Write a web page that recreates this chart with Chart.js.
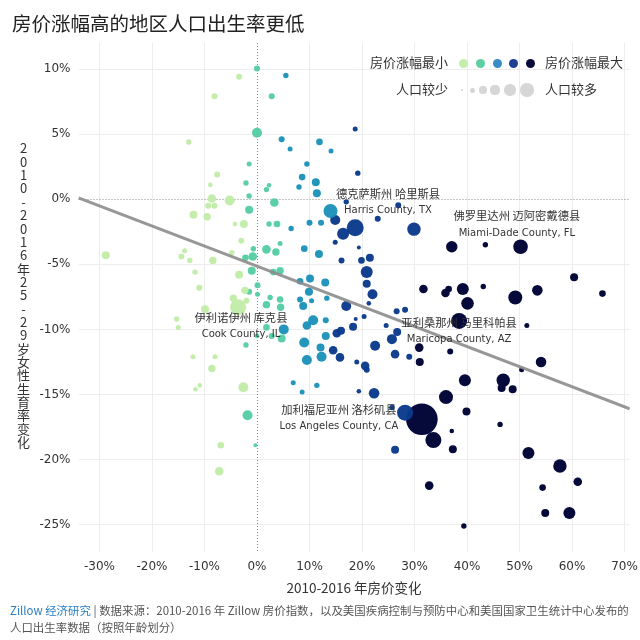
<!DOCTYPE html>
<html><head><meta charset="utf-8">
<script src="https://cdn.jsdelivr.net/npm/chart.js@4/dist/chart.umd.min.js"></script>
<style>
html,body{margin:0;padding:0;background:#fff;}
#wrap{position:relative;width:640px;height:640px;overflow:hidden;font-family:"Noto Sans CJK SC","Noto Sans",sans-serif;color:#333;}
#c{position:absolute;left:0;top:0;}
.abs{position:absolute;white-space:nowrap;}
#title{left:12px;top:8px;font-size:19.5px;color:#222;}
#ytitle{left:14px;top:142px;font-size:13px;writing-mode:vertical-rl;text-orientation:upright;color:#333;letter-spacing:0.35px;}
#xtitle{left:0;width:708px;text-align:center;top:577px;font-size:13.5px;color:#333;}
#footer{left:10px;top:602px;font-size:11.45px;line-height:17px;color:#555;}
#footer .z{color:#2b7fc2;}
.lt{font-size:13px;color:#333;line-height:16px;}
.dot{position:absolute;border-radius:50%;}
</style></head>
<body>
<div id="wrap">
<canvas id="c" width="660" height="640"></canvas>
<div id="title" class="abs">房价涨幅高的地区人口出生率更低</div>
<div id="ytitle" class="abs">2010-2016年25-29岁女性生育率变化</div>
<div id="xtitle" class="abs">2010-2016 年房价变化</div>
<div id="footer" class="abs"><span class="z">Zillow 经济研究</span> | 数据来源：2010-2016 年 Zillow 房价指数，以及美国疾病控制与预防中心和美国国家卫生统计中心发布的<br>人口出生率数据（按照年龄划分）</div>
<div id="legend"></div>
</div>
<script>
// ---- data: [house price change %, fertility change %, population (10k people)] ----
const groupNames = ['房价涨幅最小','较小','中等','较大','房价涨幅最大'];
const lightGreen = [
[-3.4,9.4,36],[-8.1,7.9,36],[-13,4.4,29],[-7.6,1.9,36],[-8.9,1.1,21],[-8.6,0.05,74],[-5.2,-0.1,100],
[-9.3,-0.5,36],[-8.1,-0.5,36],[-12.1,-1.2,64],[-9.5,-1.35,55],[-4.2,-1.9,21],[-2.5,-1.9,64],[-3,-3.2,36],
[-28.8,-4.3,64],[-13.8,-3.95,25],[-14.4,-4.4,36],[-12.8,-4.7,29],[-8.4,-4.7,55],[-4.8,-4.1,29],[-11.8,-5.6,29],
[-3.4,-5.8,64],[-11,-6.8,36],[-2.3,-7.0,55],[-4.5,-7.6,55],[-3.6,-8.3,256],[-2.0,-7.8,36],[-9.9,-8.45,64],
[-15.3,-9.2,29],[-15,-9.85,25],[-12.2,-12.1,25],[-8,-12.1,25],[-8.6,-13.0,55],[-10.9,-14.3,21],[-11.7,-14.6,21],
[-2.6,-14.45,100],[-6.9,-18.9,44],[-7.2,-20.9,74]
];
const mint = [
[0,10.05,36],[2.8,7.9,36],[0,5.1,100],[-1.5,2.7,25],[-2.1,1.25,29],[2.3,1.07,21],[1.8,0.74,29],[-1.5,0.25,29],
[3.3,-0.25,74],[-1.5,-0.8,64],[2.3,-1.9,29],[3.8,-1.9,44],[4.4,-3.4,25],[-0.7,-3.8,29],[1.8,-3.85,74],
[3.6,-4.06,55],[-2.2,-4.5,44],[-0.8,-4.4,74],[-1,-5.5,64],[3.1,-5.6,44],[4.4,-5.5,55],[0.1,-6.6,36],
[-1.5,-7.1,36],[0.1,-7.3,25],[2.5,-7.55,29],[4.4,-7.7,44],[1.8,-8.1,55],[4.5,-8.3,55],[1.8,-9.85,44],
[2.8,-10.5,36],[0,-10.5,21],[4.7,-10.7,64],[-2.1,-11.2,29],[-1.8,-16.6,100],[-0.3,-18.9,16]
];
const teal = [
[5.5,9.5,29],[4.7,4.6,36],[6.3,3.85,25],[11.9,4.4,44],[14.1,3.7,25],[9.5,2.7,29],[8.6,1.7,44],[8.0,0.94,29],
[11.2,1.3,64],[11.4,0.46,64],[6.5,-2.25,29],[10,-1.8,36],[12.2,-1.8,36],[14,-0.9,196],[9,-3.8,44],[11.8,-4.2,64],
[8.2,-6.3,44],[10.1,-6.1,64],[13,-6.4,64],[9.9,-7.1,64],[13.3,-7.6,29],[8.2,-7.7,36],[10.4,-7.8,25],[8.8,-8.2,64],
[5.1,-10.0,100],[10.7,-9.3,100],[9.5,-9.7,74],[13.1,-9.3,36],[13.1,-10.5,64],[9,-11.0,100],[12.1,-11.4,64],
[12.3,-12.1,100],[9.5,-12.35,100],[6.9,-14.1,25],[8.6,-14.8,25],[11.4,-14.3,29]
];
const navy = [
[18.7,5.4,25],[19.2,2.0,29],[17,-0.2,29],[14.9,-1.6,100],[16.4,-2.65,144],[18.7,-2.2,289],[14.9,-3.3,25],
[16.1,-4.7,36],[23,-1.5,36],[26.9,-0.46,36],[29.9,-2.3,180],[19.4,-3.7,16],[19.9,-4.7,44],[21.5,-4.5,64],
[20.9,-5.6,144],[20.9,-6.5,64],[22,-7.3,100],[21.3,-8.0,21],[17,-8.2,100],[18.8,-9.2,16],[20.4,-9.0,25],
[26.6,-8.6,36],[28.2,-8.5,36],[24.6,-9.7,25],[26.7,-10.2,64],[25.7,-10.75,100],[22.5,-11.25,100],[18.3,-9.8,64],
[15.2,-10.3,74],[16,-10.1,64],[14.5,-11.6,74],[15.8,-12.15,74],[19,-12.5,25],[20.6,-12.8,74],[20.9,-13.1,36],
[26.3,-11.9,74],[29,-12.1,36],[19.4,-14.75,21],[22.3,-14.9,112],[25.7,-16.0,29],[28.2,-16.4,256],[26.3,-19.25,64]
];
const darkNavy = [
[37.1,-3.65,130],[43.5,-3.5,29],[50.2,-3.65,213],[60.4,-6.0,64],[31.7,-6.9,74],[35.9,-7.2,74],[36.5,-6.9,44],
[39.2,-6.9,144],[43.1,-6.7,29],[40.1,-8.0,159],[49.2,-7.55,196],[53.4,-7.0,112],[65.8,-7.25,44],[38.5,-9.35,256],
[51.4,-9.7,25],[30.9,-11.4,74],[36.8,-11.7,36],[31,-12.5,64],[54.1,-12.5,112],[50.4,-13.1,25],[39.6,-13.9,144],
[46.9,-13.9,180],[46.6,-14.5,64],[48.7,-14.6,64],[36,-15.2,196],[39.9,-16.3,64],[31.4,-16.9,1000],[46.3,-17.3,29],
[37.1,-17.8,21],[33.6,-18.5,256],[37.3,-19.2,64],[51.7,-19.5,144],[57.7,-20.5,180],[61.1,-21.7,74],[54.4,-22.15,44],
[32.8,-22,74],[54.9,-24.1,64],[59.5,-24.1,144],[39.4,-25.1,29]
];
// trend line endpoints
const trendX = [-34, 71];
const trendY = [0.1, -16.1];
// ticks
const xTicks = [-30,-20,-10,0,10,20,30,40,50,60,70];
const yTicks = [10,5,0,-5,-10,-15,-20,-25];
// annotations
const labelsCN = ['德克萨斯州 哈里斯县','佛罗里达州 迈阿密戴德县','伊利诺伊州 库克县','亚利桑那州 马里科帕县','加利福尼亚州 洛杉矶县'];
const labelsEN = ['Harris County, TX','Miami-Dade County, FL','Cook County, IL','Maricopa County, AZ','Los Angeles County, CA'];
const labelX = [24.95, 49.5, -3.05, 38.5, 15.6];
const labelY = [0.46, -1.3, -9.1, -9.5, -16.15];

// ---- styles ----
const groupColors = ['rgba(193,236,168,0.95)','rgba(82,204,160,0.95)','rgba(24,144,184,0.95)','rgba(11,59,140,0.97)','#060a3a'];
const legendColors = ['#c5eea9','#5ecfa2','#3a8cc5','#1f3f95','#0a0b38'];
const groups = [lightGreen, mint, teal, navy, darkNavy];

// legend (HTML)
const lg = document.getElementById('legend');
function addText(t, x, y, align){
  const d = document.createElement('div');
  d.className = 'abs lt'; d.textContent = t;
  d.style.top = (y-8)+'px';
  if(align==='right'){ d.style.right = (640-x)+'px'; } else { d.style.left = x+'px'; }
  lg.appendChild(d);
}
function addDot(cx, cy, r, col){
  const d = document.createElement('div');
  d.className='dot'; d.style.left=(cx-r)+'px'; d.style.top=(cy-r)+'px';
  d.style.width=(2*r)+'px'; d.style.height=(2*r)+'px'; d.style.background=col;
  lg.appendChild(d);
}
addText('房价涨幅最小', 448, 62, 'right');
addText('房价涨幅最大', 545, 62, 'left');
[463,480,497,513,530].forEach((cx,i)=>addDot(cx,63,4.5,legendColors[i]));
addText('人口较少', 448, 89, 'right');
addText('人口较多', 545, 89, 'left');
[[462,1],[472,2.5],[483,3.6],[495,4.6],[510,5.6],[527,6.6]].forEach(p=>addDot(p[0],90,p[1],'#d6d6d6'));

const refLines = {
  id:'refLines',
  beforeDatasetsDraw(chart){
    const {ctx, chartArea:a, scales:{x,y}} = chart;
    ctx.save();
    ctx.strokeStyle='#8a8a8a'; ctx.lineWidth=1; ctx.setLineDash([1,2]);
    const x0 = Math.round(x.getPixelForValue(0))+0.5, y0 = Math.round(y.getPixelForValue(0))+0.5;
    ctx.beginPath(); ctx.moveTo(x0,a.top); ctx.lineTo(x0,a.bottom); ctx.stroke();
    ctx.beginPath(); ctx.moveTo(a.left,y0); ctx.lineTo(a.right,y0); ctx.stroke();
    ctx.restore();
  },
  afterDatasetsDraw(chart){
    const {ctx, scales:{x,y}} = chart;
    ctx.save();
    ctx.textAlign='center'; ctx.textBaseline='middle'; ctx.fillStyle='#333';
    labelsCN.forEach((t,i)=>{
      const px = x.getPixelForValue(labelX[i]), py = y.getPixelForValue(labelY[i]);
      ctx.font = '11.3px "Noto Sans CJK SC", sans-serif';
      ctx.fillText(t, px, py);
      ctx.font = '10px "DejaVu Sans", sans-serif';
      ctx.fillText(labelsEN[i], px, py+17);
    });
    ctx.restore();
  }
};

const datasets = [{
  type:'line',
  data: trendX.map((v,i)=>({x:v, y:trendY[i]})),
  borderColor:'rgba(140,140,140,0.9)', borderWidth:3, pointRadius:0, fill:false, order:0
}];
groups.forEach((g,gi)=>{
  datasets.push({
    label: groupNames[gi],
    data: g.map(p=>({x:p[0], y:p[1], r:Math.sqrt(p[2])/2})),
    backgroundColor: groupColors[gi], borderWidth:0, hoverRadius:0, order:1
  });
});

const gridColor = c => (c.tick && c.tick.value===0) ? 'rgba(0,0,0,0)' : '#ededed';
new Chart(document.getElementById('c'), {
  type:'bubble',
  data:{datasets},
  options:{
    responsive:false, animation:false, devicePixelRatio:1,
    layout:{padding:{top:43,right:30.25,left:0,bottom:0}},
    plugins:{legend:{display:false}, tooltip:{enabled:false}},
    events:[],
    scales:{
      x:{type:'linear', min:-34, max:71,
        afterFit:s=>{s.height=88;},
        afterBuildTicks:s=>{s.ticks = xTicks.map(v=>({value:v}));},
        ticks:{callback:v=>v+'%', color:'#333', font:{family:'DejaVu Sans', size:12}, padding:8, maxRotation:0, autoSkip:false},
        grid:{color:gridColor, drawTicks:false, lineWidth:1}, border:{display:false}},
      y:{type:'linear', min:-27.1, max:12,
        afterFit:s=>{s.width=78.5;},
        afterBuildTicks:s=>{s.ticks = yTicks.map(v=>({value:v}));},
        ticks:{callback:v=>v+'%', color:'#333', font:{family:'DejaVu Sans', size:12}, padding:8, autoSkip:false},
        grid:{color:gridColor, drawTicks:false, lineWidth:1}, border:{display:false}}
    }
  },
  plugins:[refLines]
});
</script>
</body></html>
